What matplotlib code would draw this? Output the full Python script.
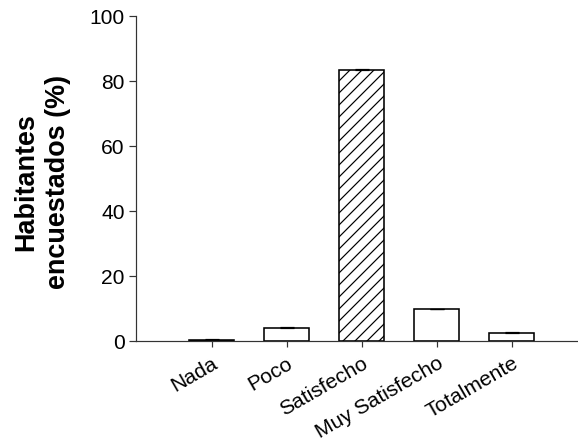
import matplotlib
matplotlib.use("Agg")
import matplotlib.pyplot as plt
import numpy as np

categories = ["Nada", "Poco", "Satisfecho", "Muy Satisfecho", "Totalmente"]
values = [0.4, 4.0, 83.5, 9.8, 2.5]
errors = [0.1, 0.2, 0.3, 0.2, 0.2]
hatches = ["", "", "//", "", ""]

plt.rcParams['font.family'] = ['Liberation Sans', 'DejaVu Sans']
plt.rcParams['hatch.linewidth'] = 1.2

DPI = 72
fig = plt.figure(figsize=(578 / DPI, 447 / DPI), dpi=DPI)
ax = fig.add_axes([0.235, 0.237, 0.765, 0.727])
x = np.arange(len(categories))
for xi, v, e, h in zip(x, values, errors, hatches):
    ax.bar(xi, v, width=0.6, color="white", edgecolor="black", linewidth=1.6, hatch=h)
    ax.errorbar(xi, v, yerr=[[0], [e]], fmt="none", ecolor="black", capsize=7, elinewidth=1.2, capthick=1.2)

ax.set_xlim(-1.01, 4.88)
ax.set_ylim(0, 100)
ax.set_yticks([0, 20, 40, 60, 80, 100])
ax.set_xticks(x)
ax.set_xticklabels(categories, rotation=30, ha="right", rotation_mode="anchor", fontsize=21)
ax.tick_params(axis="y", labelsize=21, direction="out", length=7, width=1.2, pad=4, color="#333333")
ax.tick_params(axis="x", direction="out", length=6, width=1.2, pad=7, color="#333333")
for s in ["top", "right"]:
    ax.spines[s].set_visible(False)
for s in ["left", "bottom"]:
    ax.spines[s].set_linewidth(1.2)
    ax.spines[s].set_color("#333333")
ax.set_ylabel("Habitantes\nencuestados (%)", fontsize=27, fontweight="bold",
              linespacing=1.3, va="center")
ax.yaxis.set_label_coords(-0.212, 0.49)
fig.savefig("out.png", dpi=DPI)
